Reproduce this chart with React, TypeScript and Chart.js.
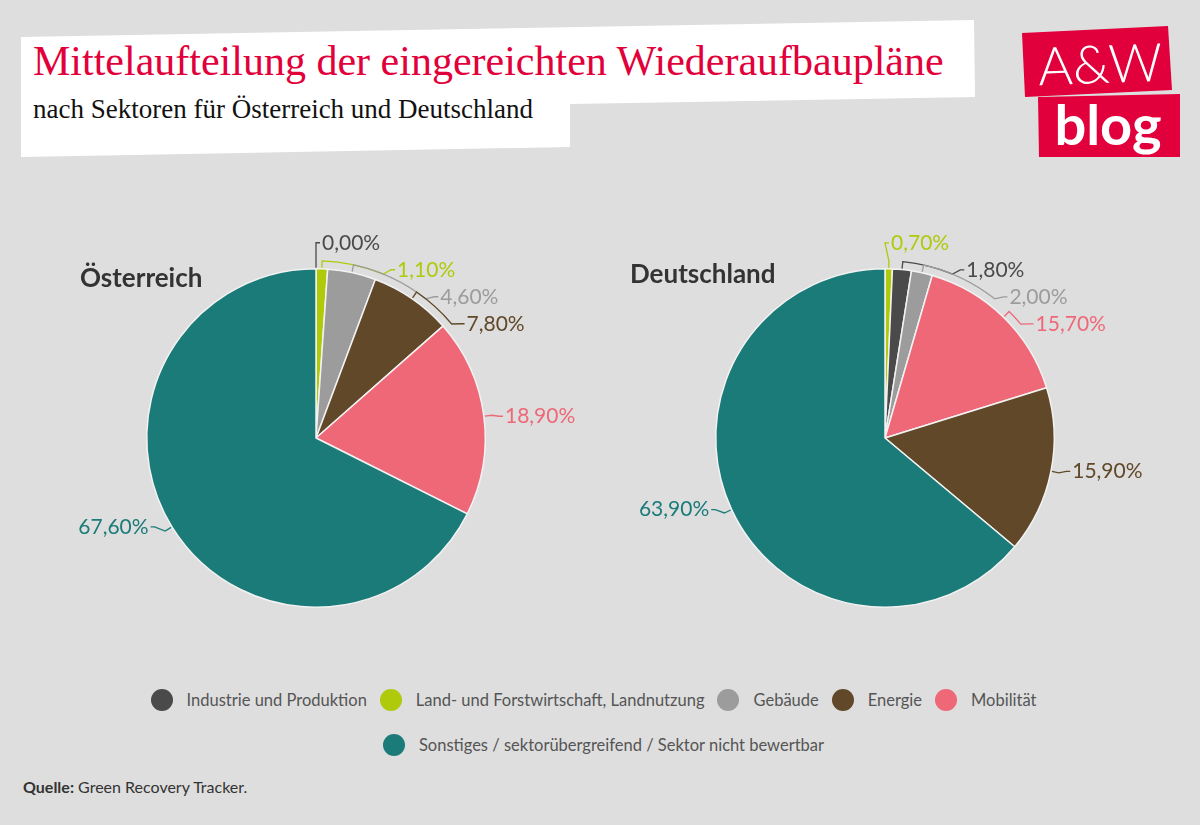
import React, { useEffect, useRef } from "react";
import { Chart, registerables } from "chart.js";

Chart.register(...registerables);

// ---------- data ----------
const sectors = [
  "Industrie und Produktion",
  "Land- und Forstwirtschaft, Landnutzung",
  "Gebäude",
  "Energie",
  "Mobilität",
  "Sonstiges / sektorübergreifend / Sektor nicht bewertbar",
];
const sectorColors = ["#4a4a4a", "#afca0b", "#9c9c9c", "#614829", "#ee6877", "#1b7b79"];

// Österreich (clockwise from top)
const atLabels = [
  "Industrie und Produktion",
  "Land- und Forstwirtschaft, Landnutzung",
  "Gebäude",
  "Energie",
  "Mobilität",
  "Sonstiges / sektorübergreifend / Sektor nicht bewertbar",
];
const atValues = [0.0, 1.1, 4.6, 7.8, 18.9, 67.6];

// Deutschland (clockwise from top)
const deLabels = [
  "Land- und Forstwirtschaft, Landnutzung",
  "Industrie und Produktion",
  "Gebäude",
  "Mobilität",
  "Energie",
  "Sonstiges / sektorübergreifend / Sektor nicht bewertbar",
];
const deValues = [0.7, 1.8, 2.0, 15.7, 15.9, 63.9];

const colorOf = (label: string) => sectorColors[sectors.indexOf(label)];
const fmt = (v: number) => v.toFixed(2).replace(".", ",") + "%";

// ---------- label plugin ----------
const pieLabelPlugin = {
  id: "pieLabels",
  afterDatasetsDraw(chart: any) {
    const ctx = chart.ctx;
    const meta = chart.getDatasetMeta(0);
    const ds = chart.data.datasets[0];
    const items = meta.data.map((arc: any, i: number) => {
      const p = arc.getProps(["x", "y", "startAngle", "endAngle", "outerRadius"], true);
      return { i, p, mid: (p.startAngle + p.endAngle) / 2 };
    });
    if (!items.length) return;
    const cx = items[0].p.x;
    const cy = items[0].p.y;
    const r = items[0].p.outerRadius;
    const R = r + 15;
    const rLine = r + 8;
    const gapY = 27;

    const right = items.filter((it: any) => Math.cos(it.mid) >= -1e-6).sort((a: any, b: any) => a.mid - b.mid);
    const left = items.filter((it: any) => Math.cos(it.mid) < -1e-6).sort((a: any, b: any) => b.mid - a.mid);

    const place = (list: any[], side: number) => {
      let lastY = -Infinity;
      list.forEach((it) => {
        const s = Math.sin(it.mid);
        let y = cy + r * s - 26 * Math.pow(Math.max(0, -s), 8);
        y = Math.max(y, lastY + gapY);
        const dy = y - cy;
        const x = cx + side * Math.sqrt(Math.max(0, R * R - dy * dy));
        lastY = y;
        it.lx = x;
        it.ly = y;
      });
    };
    place(right, 1);
    place(left, -1);

    ctx.save();
    ctx.font = "21px Lato";
    ctx.textBaseline = "middle";
    [...right.map((it: any) => ({ it, side: 1 })), ...left.map((it: any) => ({ it, side: -1 }))].forEach(({ it, side }) => {
      const color = ds.backgroundColor[it.i];
      const value = ds.data[it.i];
      ctx.strokeStyle = color;
      ctx.fillStyle = color;
      ctx.lineWidth = 1.3;
      ctx.beginPath();
      ctx.moveTo(cx + (r + 1) * Math.cos(it.mid), cy + (r + 1) * Math.sin(it.mid));
      ctx.lineTo(cx + rLine * Math.cos(it.mid), cy + rLine * Math.sin(it.mid));
      let tb = Math.atan2(it.ly - cy, it.lx - cx);
      if (side > 0) {
        if (tb < it.mid - Math.PI) tb += 2 * Math.PI;
        if (tb > it.mid + 0.03) {
          ctx.arc(cx, cy, rLine, it.mid, tb - 0.03, false);
        }
      }
      ctx.lineTo(it.lx, it.ly);
      ctx.lineTo(it.lx + side * 4, it.ly);
      ctx.stroke();
      ctx.textAlign = side > 0 ? "left" : "right";
      ctx.fillText(fmt(value), it.lx + side * 6, it.ly);
    });
    ctx.restore();
  },
};

// ---------- pie component ----------
function Pie(props: { labels: string[]; values: number[]; left: number; top: number; padding: any }) {
  const ref = useRef<HTMLCanvasElement | null>(null);
  useEffect(() => {
    if (!ref.current) return;
    const chart = new Chart(ref.current, {
      type: "pie",
      data: {
        labels: props.labels,
        datasets: [
          {
            data: props.values,
            backgroundColor: props.labels.map(colorOf),
            borderColor: "#f2f2f2",
            borderWidth: 1.5,
          },
        ],
      },
      options: {
        responsive: false,
        animation: false,
        devicePixelRatio: 1,
        layout: { padding: props.padding },
        plugins: { legend: { display: false }, tooltip: { enabled: false }, title: { display: false } },
      },
      plugins: [pieLabelPlugin],
    });
    return () => chart.destroy();
  }, []);
  return (
    <canvas
      ref={ref}
      width={600}
      height={470}
      style={{ position: "absolute", left: props.left, top: props.top, width: 600, height: 470 }}
    />
  );
}

export default function App() {
  const sans = "Lato, 'Noto Sans', sans-serif";
  const legendRow1 = sectors.slice(0, 5);
  const legendRow2 = sectors.slice(5);
  const legendItem = (s: string) => (
    <div key={s} style={{ display: "flex", alignItems: "center", marginRight: 13 }}>
      <span
        style={{
          display: "inline-block",
          width: 22,
          height: 22,
          borderRadius: "50%",
          background: colorOf(s),
          marginRight: 14,
        }}
      />
      <span style={{ fontFamily: sans, fontSize: 16.5, color: "#555555", whiteSpace: "nowrap" }}>{s}</span>
    </div>
  );
  return (
    <div
      style={{
        position: "fixed",
        left: 0,
        top: 0,
        width: 1200,
        height: 825,
        background: "#dedede",
        overflow: "hidden",
      }}
    >
      <svg width={1200} height={170} style={{ position: "absolute", left: 0, top: 0 }}>
        <polygon points="21,37 974,20 975,97 570,104 570,147 21,157" fill="#ffffff" />
        <polygon points="1022,33 1168,26 1172,90 1025,97" fill="#e1003c" />
        <polygon points="1038,97 1180,94 1180,157 1039,157" fill="#e1003c" />
        <text
          x={1100}
          y={83}
          textAnchor="middle"
          fill="#ffffff"
          fontFamily="Lato, sans-serif"
          fontWeight={300}
          fontSize={53}
          transform="rotate(-2 1100 60)"
        >
          A&amp;W
        </text>
        <text x={1108} y={145} textAnchor="middle" fill="#ffffff" fontFamily="Lato, sans-serif" fontWeight={700} fontSize={56}>
          blog
        </text>
      </svg>
      <div
        style={{
          position: "absolute",
          left: 33,
          top: 40,
          fontFamily: "'Liberation Serif', serif",
          fontSize: 42,
          lineHeight: 1,
          color: "#e2003b",
          whiteSpace: "nowrap",
        }}
      >
        Mittelaufteilung der eingereichten Wiederaufbaupläne
      </div>
      <div
        style={{
          position: "absolute",
          left: 33,
          top: 96,
          fontFamily: "'Liberation Serif', serif",
          fontSize: 27,
          lineHeight: 1,
          color: "#111111",
          whiteSpace: "nowrap",
        }}
      >
        nach Sektoren für Österreich und Deutschland
      </div>

      <Pie labels={atLabels} values={atValues} left={0} top={200} padding={{ left: 146, right: 114, top: 68, bottom: 62 }} />
      <Pie labels={deLabels} values={deValues} left={600} top={200} padding={{ left: 115, right: 145, top: 68, bottom: 62 }} />

      <div
        style={{
          position: "absolute",
          left: 80,
          top: 264,
          fontFamily: sans,
          fontWeight: 700,
          fontSize: 26,
          lineHeight: 1,
          color: "#333333",
        }}
      >
        Österreich
      </div>
      <div
        style={{
          position: "absolute",
          left: 630,
          top: 260,
          fontFamily: sans,
          fontWeight: 700,
          fontSize: 26,
          lineHeight: 1,
          color: "#333333",
        }}
      >
        Deutschland
      </div>

      <div style={{ position: "absolute", left: 0, top: 689, width: 1200, height: 22, display: "flex", justifyContent: "center" }}>
        {legendRow1.map(legendItem)}
      </div>
      <div style={{ position: "absolute", left: 10, top: 734, width: 1200, height: 22, display: "flex", justifyContent: "center" }}>
        {legendRow2.map(legendItem)}
      </div>

      <div
        style={{
          position: "absolute",
          left: 23,
          top: 779,
          fontFamily: sans,
          fontSize: 16,
          lineHeight: 1,
          color: "#333333",
          whiteSpace: "nowrap",
        }}
      >
        <b>Quelle:</b> Green Recovery Tracker.
      </div>
    </div>
  );
}
